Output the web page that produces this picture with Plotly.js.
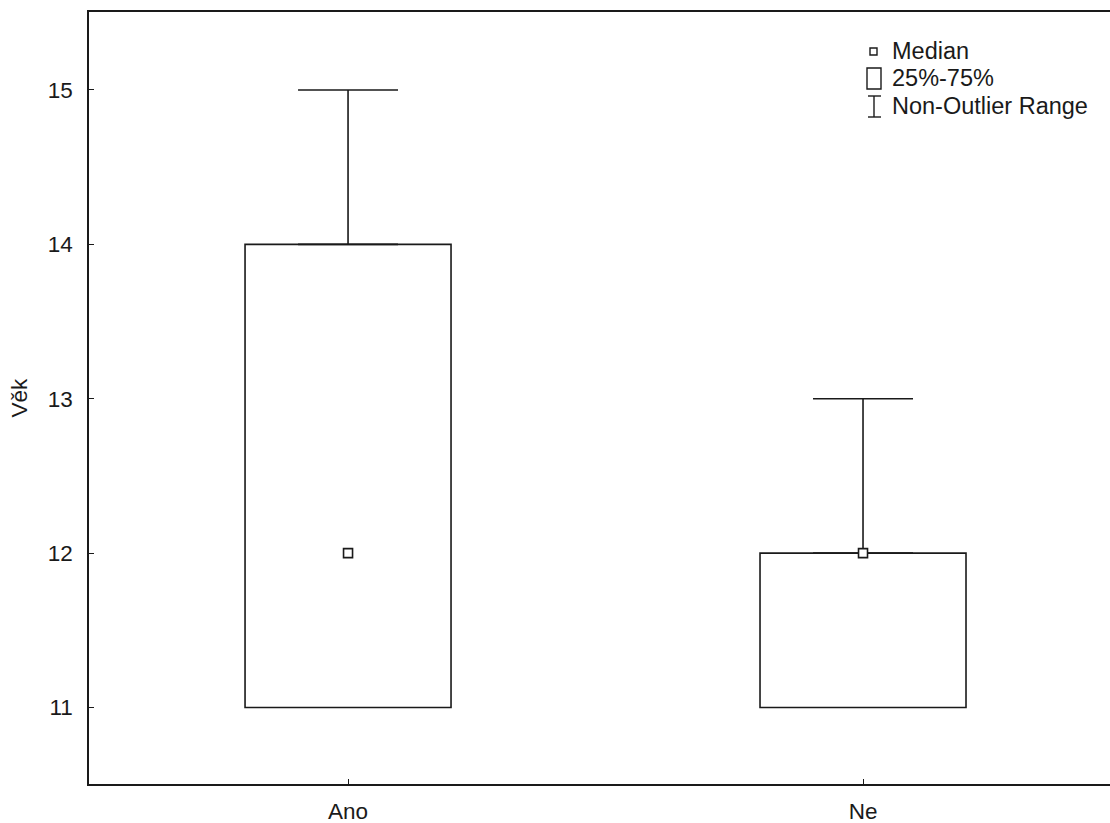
<!DOCTYPE html>
<html>
<head>
<meta charset="utf-8">
<script src="https://cdn.plot.ly/plotly-3.0.1.min.js"></script>
<style>html,body{margin:0;padding:0;background:#fff;}#chart{width:1110px;height:823px;}</style>
</head>
<body>
<div id="chart"></div>
<script>
// ---- data ----
var categories = ["Ano", "Ne"];
var minVals    = [11, 11];
var q1Vals     = [11, 11];
var medianVals = [12, 12];
var q3Vals     = [14, 12];
var maxVals    = [15, 13];
var yTickVals  = [11, 12, 13, 14, 15];
var yTitle     = "Věk";
var legendLabels = ["Median", "25%-75%", "Non-Outlier Range"];

// ---- styling ----
var INK = "#1a1a1a";
var FONT = "Liberation Sans, Arial, sans-serif";
var W = 1110, H = 823;
var M = {l: 89, r: 0, t: 12, b: 39};
var plotW = W - M.l - M.r, plotH = H - M.t - M.b;

function px(x){ return (x - M.l) / plotW; }
function py(y){ return (H - M.b - y) / plotH; }

var xIdx = categories.map(function(_, i){ return i; });

var boxTrace = {
  type: "bar",
  x: xIdx,
  base: q1Vals,
  y: q3Vals.map(function(v, i){ return v - q1Vals[i]; }),
  width: 0.4,
  marker: {color: "rgba(255,255,255,1)", line: {color: INK, width: 1.6}},
  error_y: {
    type: "data", symmetric: false,
    array: maxVals.map(function(v, i){ return v - q3Vals[i]; }),
    arrayminus: q1Vals.map(function(v, i){ return 0 * (v - minVals[i]); }),
    color: INK, thickness: 1.6, width: 50
  },
  hoverinfo: "skip",
  showlegend: false
};

var medTrace = {
  type: "scatter", mode: "markers",
  x: xIdx, y: medianVals,
  marker: {symbol: "square", size: 9, color: "#fff", line: {color: INK, width: 1.6}},
  showlegend: false, hoverinfo: "skip", cliponaxis: false
};

// custom legend (paper coords)
var shapes = [
  {type: "rect", xref: "paper", yref: "paper", x0: px(870), x1: px(877), y0: py(55), y1: py(48), line: {color: INK, width: 1.4}, fillcolor: "#fff"},
  {type: "rect", xref: "paper", yref: "paper", x0: px(867), x1: px(881), y0: py(89), y1: py(68), line: {color: INK, width: 1.4}, fillcolor: "rgba(0,0,0,0)"},
  {type: "line", xref: "paper", yref: "paper", x0: px(874), x1: px(874), y0: py(96), y1: py(117), line: {color: INK, width: 1.4}},
  {type: "line", xref: "paper", yref: "paper", x0: px(868), x1: px(881), y0: py(96), y1: py(96), line: {color: INK, width: 1.4}},
  {type: "line", xref: "paper", yref: "paper", x0: px(868), x1: px(881), y0: py(117), y1: py(117), line: {color: INK, width: 1.4}}
];
var legY = [51, 78, 106];
var annotations = legendLabels.map(function(t, i){
  return {xref: "paper", yref: "paper", x: px(890), y: py(legY[i]), xanchor: "left", yanchor: "middle",
          text: t, showarrow: false, font: {family: FONT, size: 23.5, color: INK}};
});

var layout = {
  width: W, height: H,
  margin: M,
  paper_bgcolor: "#fff", plot_bgcolor: "#fff",
  font: {family: FONT, size: 22.5, color: INK},
  showlegend: false,
  bargap: 0,
  xaxis: {
    range: [-0.503, 1.4796],
    tickmode: "array", tickvals: xIdx, ticktext: categories,
    ticks: "inside", ticklen: 5, tickcolor: INK, tickwidth: 1,
    showline: true, linecolor: INK, linewidth: 1.6, mirror: true,
    showgrid: false, zeroline: false, fixedrange: true,
    ticklabelstandoff: 6,
    tickfont: {family: FONT, size: 22.5, color: INK}
  },
  yaxis: {
    range: [10.505, 15.505],
    tickmode: "array", tickvals: yTickVals,
    ticks: "inside", ticklen: 5, tickcolor: INK, tickwidth: 1,
    showline: true, linecolor: INK, linewidth: 1.6, mirror: false,
    showgrid: false, zeroline: false, fixedrange: true,
    ticklabelstandoff: 10,
    tickfont: {family: FONT, size: 22.5, color: INK},
    title: {text: yTitle, font: {family: FONT, size: 22.5, color: INK}, standoff: 14}
  },
  shapes: shapes,
  annotations: annotations
};

Plotly.newPlot("chart", [boxTrace, medTrace], layout, {staticPlot: true, displayModeBar: false});
</script>
</body>
</html>
